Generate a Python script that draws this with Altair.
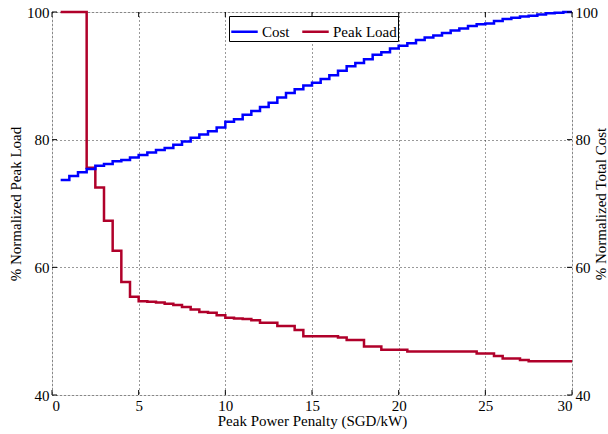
import altair as alt
import pandas as pd

# Peak power penalty grid (SGD/kW)
cost_x = [0.5, 1.0, 1.5, 2.0, 2.5, 3.0, 3.5, 4.0, 4.5, 5.0, 5.5, 6.0, 6.5, 7.0, 7.5, 8.0, 8.5, 9.0, 9.5, 10.0,
          10.5, 11.0, 11.5, 12.0, 12.5, 13.0, 13.5, 14.0, 14.5, 15.0, 15.5, 16.0, 16.5, 17.0, 17.5, 18.0, 18.5, 19.0, 19.5, 20.0,
          20.5, 21.0, 21.5, 22.0, 22.5, 23.0, 23.5, 24.0, 24.5, 25.0, 25.5, 26.0, 26.5, 27.0, 27.5, 28.0, 28.5, 29.0, 29.5, 30.0]
cost_y = [73.7, 74.3, 74.9, 75.4, 75.9, 76.2, 76.6, 76.8, 77.2, 77.6, 78.0, 78.4, 78.7, 79.2, 79.7, 80.3, 80.8, 81.3, 81.9, 82.8,
          83.2, 83.9, 84.5, 85.1, 85.8, 86.6, 87.3, 87.9, 88.5, 88.9, 89.5, 90.1, 90.8, 91.5, 92.0, 92.6, 93.3, 93.7, 94.3, 94.7,
          95.1, 95.6, 96.0, 96.3, 96.7, 97.1, 97.4, 97.8, 98.1, 98.2, 98.6, 98.9, 99.1, 99.3, 99.4, 99.6, 99.8, 99.9, 100.0, 100.0]
peak_x = cost_x
peak_y = [100.0, 100.0, 100.0, 75.6, 72.5, 67.3, 62.6, 57.7, 55.4, 54.7, 54.6, 54.5, 54.3, 54.1, 53.8, 53.4, 53.0, 52.9, 52.5, 52.1,
          52.0, 51.9, 51.7, 51.3, 51.3, 50.8, 50.8, 50.2, 49.2, 49.2, 49.2, 49.2, 49.0, 48.6, 48.6, 47.6, 47.6, 47.1, 47.1, 47.1,
          46.8, 46.8, 46.8, 46.8, 46.8, 46.8, 46.8, 46.8, 46.5, 46.5, 46.1, 45.7, 45.7, 45.5, 45.3, 45.3, 45.3, 45.3, 45.3, 45.3]
series_names = ["Cost", "Peak Load"]
series_colors = ["#0000ff", "#b0002a"]
x_ticks = [0, 5, 10, 15, 20, 25, 30]
y_ticks = [40, 60, 80, 100]

W, H = 520, 383
FONT = "Liberation Serif"

df = pd.concat([
    pd.DataFrame({"x": cost_x, "y": cost_y, "series": "Cost"}),
    pd.DataFrame({"x": peak_x, "y": peak_y, "series": "Peak Load"}),
])
xt = pd.DataFrame({"x": x_ticks})
yt = pd.DataFrame({"t": y_ticks})

xscale = alt.Scale(domain=[0, 30], nice=False)
yscale = alt.Scale(domain=[40, 100], nice=False)
color = alt.Color("series:N", scale=alt.Scale(domain=series_names, range=series_colors),
                  legend=alt.Legend(title=None, orient="none", legendX=177, legendY=4,
                                    direction="horizontal", symbolType="stroke",
                                    symbolSize=700, symbolStrokeWidth=2.5,
                                    labelFont=FONT, labelFontSize=15, labelColor="black",
                                    strokeColor="black", fillColor="white", padding=1,
                                    columnPadding=7, labelOffset=3))

xaxis = alt.Axis(values=x_ticks, tickSize=0, labelFont=FONT, labelFontSize=15, labelColor="black",
                 title="Peak Power Penalty (SGD/kW)", titleFont=FONT, titleFontSize=15,
                 titleFontWeight="normal", titleColor="black", labelPadding=3, titlePadding=0,
                 grid=True, gridDash=[1, 3], gridColor="#333", domain=False)
X = alt.X("x:Q", scale=xscale, axis=xaxis)

base = alt.Chart(df)
peak = base.transform_filter(alt.datum.series == "Peak Load").mark_line(
    interpolate="step-after", strokeWidth=2.5).encode(
    x=X,
    y=alt.Y("y:Q", scale=yscale, axis=alt.Axis(values=y_ticks, tickSize=0, orient="left",
            labelFont=FONT, labelFontSize=15, labelColor="black", labelPadding=3,
            title="% Normalized Peak Load", titleFont=FONT, titleFontSize=15,
            titleFontWeight="normal", titleColor="black", titlePadding=3,
            grid=True, gridDash=[1, 3], gridColor="#333", domain=False)),
    color=color,
)
cost = base.transform_filter(alt.datum.series == "Cost").mark_line(
    interpolate="step-after", strokeWidth=2.5).encode(
    x=X,
    y=alt.Y("y:Q", scale=yscale, axis=alt.Axis(values=y_ticks, tickSize=0, orient="right",
            labelFont=FONT, labelFontSize=15, labelColor="black", labelPadding=3,
            title="% Normalized Total Cost", titleFont=FONT, titleFontSize=15,
            titleFontWeight="normal", titleColor="black", titlePadding=11, titleAngle=270,
            grid=False, domain=False)),
    color=color,
)

tick_top = alt.Chart(xt).mark_rule(color="black", strokeWidth=1).encode(
    x=X, y=alt.value(0), y2=alt.value(5))
tick_bot = alt.Chart(xt).mark_rule(color="black", strokeWidth=1).encode(
    x=X, y=alt.value(H), y2=alt.value(H - 5))
tick_l = alt.Chart(yt).mark_rule(color="black", strokeWidth=1).encode(
    y=alt.Y("t:Q", scale=yscale, axis=None), x=alt.value(0), x2=alt.value(5))
tick_r = alt.Chart(yt).mark_rule(color="black", strokeWidth=1).encode(
    y=alt.Y("t:Q", scale=yscale, axis=None), x=alt.value(W), x2=alt.value(W - 5))

chart = alt.layer(peak, cost, tick_top, tick_bot, tick_l, tick_r).resolve_scale(
    y="independent"
).properties(
    width=W, height=H,
    autosize=alt.AutoSizeParams(type="none"),
    padding={"left": 52, "top": 12, "right": 36, "bottom": 39},
).configure_view(stroke="black", strokeWidth=1.5).configure(background="white")

chart.save("out.html", embed_options={"renderer": "svg", "actions": False})
